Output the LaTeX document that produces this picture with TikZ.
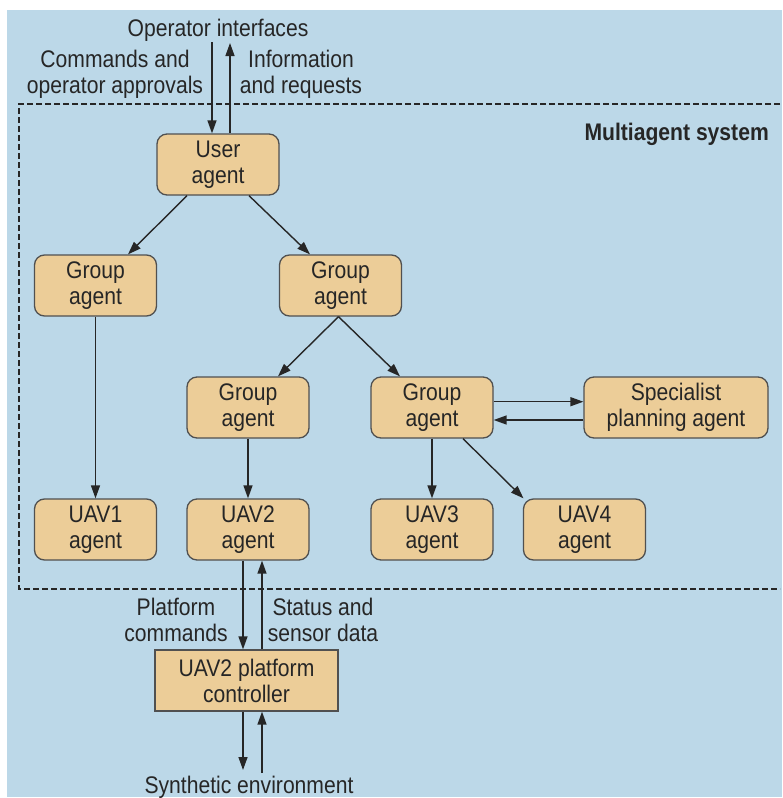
\documentclass[tikz,border=0pt]{standalone}
\usepackage{fontspec}
\setmainfont{Liberation Sans}[FakeStretch=0.88]
\usetikzlibrary{arrows.meta,calc}

\definecolor{bgblue}{HTML}{BCD8E8}
\definecolor{boxtan}{HTML}{ECCD98}
\definecolor{ink}{HTML}{262626}
\definecolor{edgegray}{HTML}{505050}

\tikzset{
  labelfont/.style={font=\fontsize{24}{26}\selectfont},
  agent/.style={labelfont, draw=edgegray, fill=boxtan, line width=1.3pt,
    rounded corners=10pt, minimum width=122pt, minimum height=61pt,
    align=center, inner sep=0pt, text=ink},
  wideagent/.style={agent, minimum width=184pt},
  controller/.style={agent, rounded corners=0pt, minimum width=183pt},
  note/.style={labelfont, align=center, inner sep=0pt, text=ink},
  arr/.style={draw=ink, line width=1.4pt, -{Triangle[length=13pt,width=9pt]}},
  sysframe/.style={draw=ink, line width=1.3pt, dash pattern=on 6pt off 3pt}
}

\begin{document}
\begin{tikzpicture}[x=1pt,y=-1pt]
  \useasboundingbox (0,0) rectangle (782,798);
  \fill[bgblue] (7,10) rectangle (782,797);

  % multiagent system boundary
  \draw[sysframe] (780,104) -- (19,104) -- (19,589) -- (780,589);
  \node[note, font=\fontsize{24}{26}\selectfont\bfseries, anchor=base east]
    (mas) at (769,140) {Multiagent system};

  % agents
  \node[agent] (user)  at (218,164.5)   {User\\agent};
  \node[agent] (gleft) at (95.5,285.5)  {Group\\agent};
  \node[agent] (gmid)  at (340.5,285.5) {Group\\agent};
  \node[agent] (gll)   at (248,407.5)   {Group\\agent};
  \node[agent] (glr)   at (432,407.5)   {Group\\agent};
  \node[wideagent] (spec) at (676,407.5) {Specialist\\planning agent};
  \node[agent] (uav1)  at (95.5,529.5)  {UAV1\\agent};
  \node[agent] (uav2)  at (248,529.5)   {UAV2\\agent};
  \node[agent] (uav3)  at (432,529.5)   {UAV3\\agent};
  \node[agent] (uav4)  at (584.5,529.5) {UAV4\\agent};
  \node[controller] (plat) at (246.5,680.5) {UAV2 platform\\controller};

  % operator side
  \node[note, anchor=base] (opi) at (218,36) {Operator interfaces};
  \node[note] (cmdlbl)  at (115,74) {Commands and\\operator approvals};
  \node[note] (infolbl) at (301,74) {Information\\and requests};
  \coordinate (opdown) at (212,42);
  \coordinate (opup)   at (230,43);
  \draw[arr] (opdown) -- (user.north -| opdown);
  \draw[arr] (user.north -| opup) -- (opup);

  % hierarchy
  \draw[arr] ([xshift=-31pt]user.south) -- ([xshift=32.5pt]gleft.north);
  \draw[arr] ([xshift=31pt]user.south)  -- ([xshift=-30.5pt]gmid.north);
  \draw[arr] ([xshift=-2pt]gmid.south)  -- ([xshift=30pt]gll.north);
  \draw[arr] ([xshift=-2pt]gmid.south)  -- ([xshift=-32pt]glr.north);
  \draw[arr] (gleft.south) -- (uav1.north);
  \draw[arr] (gll.south)   -- (uav2.north);
  \draw[arr] (glr.south)   -- (uav3.north);
  \draw[arr] ([xshift=31pt]glr.south) -- ([xshift=-61pt]uav4.north);
  \draw[arr] ([yshift=5.8pt]glr.east)    -- ([yshift=5.8pt]spec.west);
  \draw[arr] ([yshift=-12.5pt]spec.west) -- ([yshift=-12.5pt]glr.east);

  % platform link
  \coordinate (cmdx) at (243,0);
  \coordinate (stax) at (262,0);
  \draw[arr] (uav2.south -| cmdx) -- (plat.north -| cmdx);
  \draw[arr] (plat.north -| stax) -- (uav2.south -| stax);
  \node[note] (pcmd) at (176,620) {Platform\\commands};
  \node[note] (psta) at (323,620) {Status and\\sensor data};

  % synthetic environment
  \coordinate (envdown) at (243,770);
  \coordinate (envup)   at (262,773);
  \draw[arr] (plat.south -| envdown) -- (envdown);
  \draw[arr] (envup) -- (plat.south -| envup);
  \node[note, anchor=base] (env) at (249,793) {Synthetic environment};
\end{tikzpicture}
\end{document}
